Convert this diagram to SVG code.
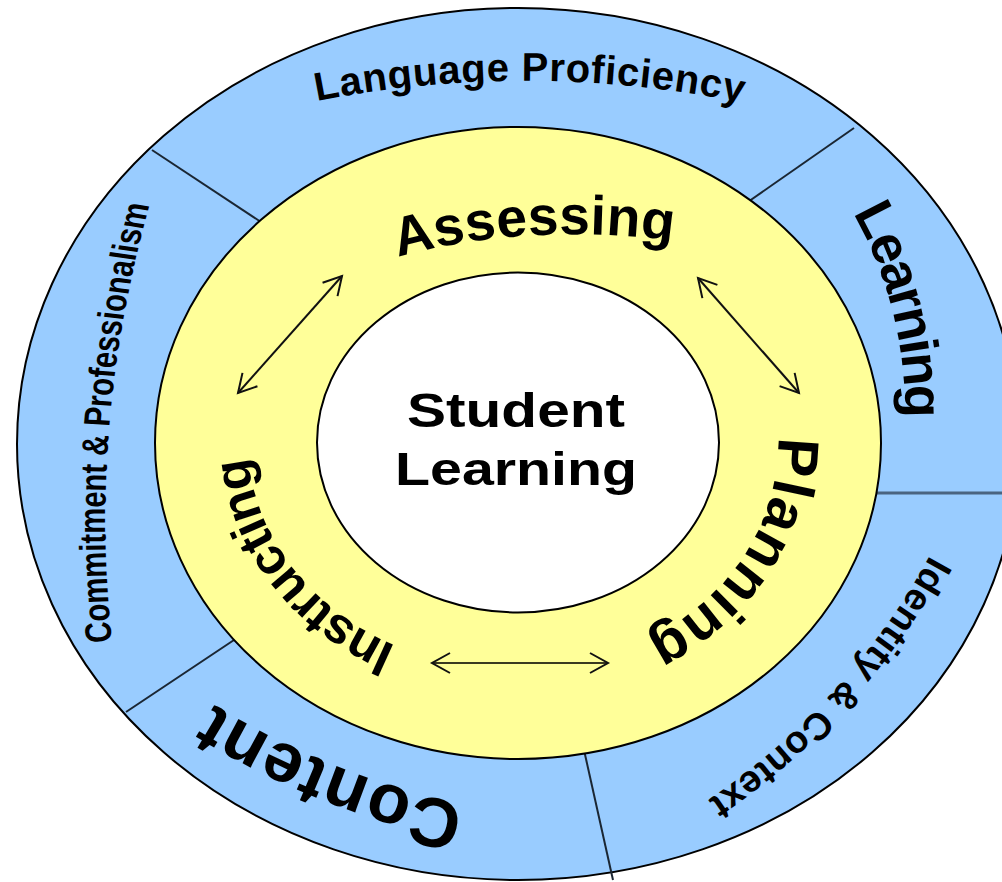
<svg xmlns="http://www.w3.org/2000/svg" width="1002" height="882" viewBox="0 0 1002 882">
<style>
.ring{stroke:#000;stroke-width:2}
.div{stroke:#1a2633;stroke-width:2;fill:none}
.t{font-family:"Liberation Sans",Arial,sans-serif;font-weight:bold;fill:#000}
.arr{stroke:#111;stroke-width:2;fill:none;marker-start:url(#ah);marker-end:url(#ah)}
</style>
<defs>
<marker id="ah" viewBox="0 0 20 22" refX="18" refY="11" markerWidth="20" markerHeight="22" markerUnits="userSpaceOnUse" orient="auto-start-reverse" overflow="visible">
<path d="M0,1 L18,11 L0,21" fill="none" stroke="#111" stroke-width="2"/>
</marker>
<path id="pLang" d="M317,101 A632,360 0 0 1 790,114"/>
<path id="pLearn" d="M853,213 A400,400 0 0 1 901,466"/>
<path id="pIdent" d="M930,555 A700,700 0 0 1 643.6,838.8"/>
<path id="pCont" d="M465,805 A800,800 0 0 1 162.6,670.1"/>
<path id="pComm" d="M112,812.7 Q88,531.6 152,248.1"/>
<path id="pAss" d="M398,257 A380,201 0 0 1 730,252"/>
<path id="pPlan" d="M778,437 A262,227 0 0 1 586,662"/>
<path id="pInst" d="M396,646 A268,230 0 0 1 250,410"/>
</defs>
<g id="outer-ring">
<ellipse cx="518" cy="444" rx="501" ry="436" fill="#99ccff" class="ring"/>
</g>
<g id="dividers">
<line class="div" x1="152" y1="150" x2="270" y2="228"/>
<line class="div" x1="854" y1="128" x2="745" y2="204"/>
<line x1="870" y1="493" x2="1010" y2="493" stroke="#4a6480" stroke-width="3"/>
<line class="div" x1="584" y1="750" x2="613" y2="880"/>
<line class="div" x1="240" y1="636" x2="126" y2="712"/>
</g>
<g id="middle-ring">
<ellipse cx="518" cy="443" rx="363" ry="316" fill="#ffff99" class="ring"/>
</g>
<g id="center">
<ellipse cx="518" cy="442.5" rx="201" ry="170" fill="#ffffff" class="ring"/>
<text class="t" x="516" y="427" font-size="49" text-anchor="middle" textLength="218" lengthAdjust="spacingAndGlyphs">Student</text>
<text class="t" x="516" y="485" font-size="47" text-anchor="middle" textLength="242" lengthAdjust="spacingAndGlyphs">Learning</text>
</g>
<g id="node-language-proficiency">
<text class="t" font-size="40"><textPath href="#pLang" textLength="428" lengthAdjust="spacing">Language Proficiency</textPath></text>
</g>
<g id="node-learning">
<text class="t" font-size="54"><textPath href="#pLearn" textLength="214" lengthAdjust="spacing">Learning</textPath></text>
</g>
<g id="node-identity-context">
<text class="t" font-size="38"><textPath href="#pIdent" textLength="334" lengthAdjust="spacing">Identity &amp; Context</textPath></text>
</g>
<g id="node-content">
<text class="t" font-size="70"><textPath href="#pCont" textLength="272" lengthAdjust="spacing">Content</textPath></text>
</g>
<g id="node-commitment" transform="scale(1,0.79)">
<text class="t" font-size="37"><textPath href="#pComm" textLength="557" lengthAdjust="spacing">Commitment &amp; Professionalism</textPath></text>
</g>
<g id="node-assessing">
<text class="t" font-size="55"><textPath href="#pAss" textLength="277" lengthAdjust="spacing">Assessing</textPath></text>
</g>
<g id="node-planning">
<text class="t" font-size="58"><textPath href="#pPlan" textLength="255" lengthAdjust="spacing">Planning</textPath></text>
</g>
<g id="node-instructing">
<text class="t" font-size="51"><textPath href="#pInst" textLength="252" lengthAdjust="spacing">Instructing</textPath></text>
</g>
<g id="connectors">
<line class="arr" x1="238" y1="393" x2="342" y2="276"/>
<line class="arr" x1="698" y1="278" x2="799" y2="393"/>
<line class="arr" x1="432" y1="663" x2="608" y2="663" style="stroke:#3a3a20"/>
</g>
</svg>
